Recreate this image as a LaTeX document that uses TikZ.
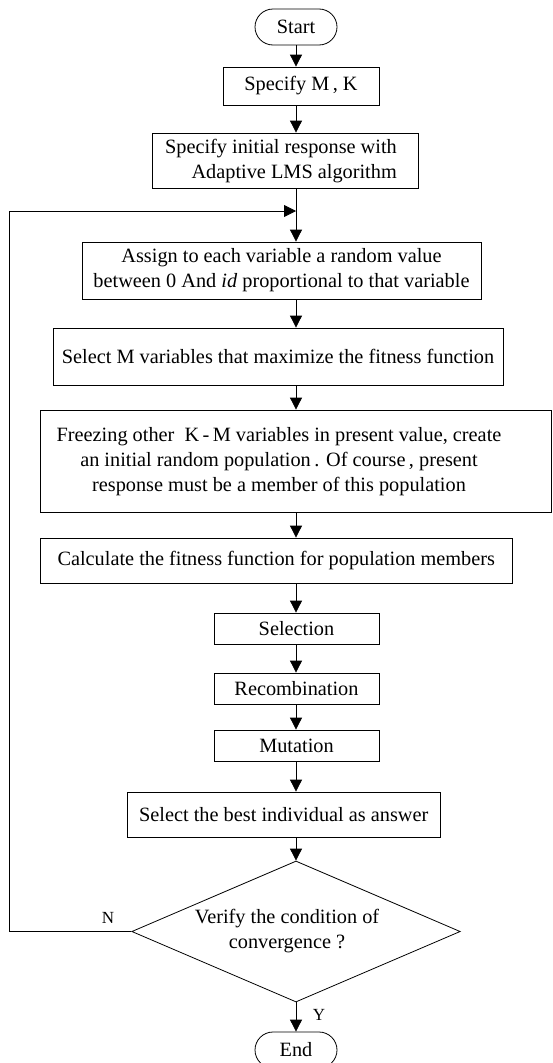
\documentclass[tikz,border=0pt]{standalone}
\usepackage{fontspec}
\setmainfont{Liberation Serif}
\usetikzlibrary{arrows.meta,shapes.geometric}
\begin{document}
\begin{tikzpicture}[x=1pt,y=-1pt,
  every node/.style={font=\fontsize{20.3}{25}\selectfont},
  box/.style={draw,rectangle,line width=0.8pt,inner sep=0pt,align=center},
  term/.style={draw,rectangle,rounded corners=18pt,line width=0.8pt,inner sep=0pt,minimum width=82pt,minimum height=36pt},
  txt/.style={inner sep=0pt,align=center},
  lab/.style={inner sep=0pt,font=\fontsize{17}{20}\selectfont},
  arr/.style={line width=0.8pt,-{Triangle[length=12pt,width=12pt]}},
  ln/.style={line width=0.8pt}]
\useasboundingbox (0,0) rectangle (552,1063);
\coordinate (ax) at (296,0);
\node[term] (start) at (296,27) {Start};
\node[box,minimum width=156pt,minimum height=38pt] (mk) at (301,86) {Specify M\,, K};
\node[box,minimum width=266pt,minimum height=55pt] (init) at (285,160.5) {};
\node[txt,anchor=east,align=right] (inittxt) at (397,161) {Specify initial response with\\Adaptive LMS algorithm};
\node[box,minimum width=399pt,minimum height=57pt] (assign) at (281.5,270.5) {Assign to each variable a random value\\between 0 And \textit{id} proportional to that variable};
\node[box,minimum width=450pt,minimum height=57pt] (selm) at (278,356.5) {Select M variables that maximize the fitness function};
\node[box,minimum width=510.5pt,minimum height=102pt] (freeze) at (295.75,461) {};
\node[txt] (freezetxt) at (279,462) {Freezing other\ \ K\,-\,M variables in present value,\ create\\an initial random population\,. Of course\,,\ present\\response must be a member of this population};
\node[box,minimum width=471.5pt,minimum height=45pt] (calc) at (276.25,560.5) {Calculate the fitness function for population members};
\node[box,minimum width=165pt,minimum height=31pt] (sel) at (296.5,628.5) {Selection};
\node[box,minimum width=165pt,minimum height=31pt] (rec) at (296.5,688.5) {Recombination};
\node[box,minimum width=165pt,minimum height=31pt] (mut) at (296.5,745.5) {Mutation};
\node[box,minimum width=312.5pt,minimum height=45pt] (best) at (283.75,814.5) {Select the best individual as answer};
\node[draw,diamond,line width=0.8pt,inner sep=0pt,minimum width=328.5pt,minimum height=141pt] (dia) at (296,931.5) {};
\node[txt] (diatxt) at (287,931) {Verify the condition of\\convergence ?};
\node[term] (end) at (296,1050) {End};
\node[lab] (nlab) at (108,918) {N};
\node[lab] (ylab) at (319,1015) {Y};
\coordinate (lc) at (9.5,211);
\coordinate (mg) at (296,211);
\draw[arr] (start.south -| ax) -- (mk.north -| ax);
\draw[arr] (mk.south -| ax) -- (init.north -| ax);
\draw[arr] (init.south -| ax) -- (assign.north -| ax);
\draw[arr] (assign.south -| ax) -- (selm.north -| ax);
\draw[arr] (selm.south -| ax) -- (freeze.north -| ax);
\draw[arr] (freeze.south -| ax) -- (calc.north -| ax);
\draw[arr] (calc.south -| ax) -- (sel.north -| ax);
\draw[arr] (sel.south -| ax) -- (rec.north -| ax);
\draw[arr] (rec.south -| ax) -- (mut.north -| ax);
\draw[arr] (mut.south -| ax) -- (best.north -| ax);
\draw[arr] (best.south -| ax) -- (dia.north);
\draw[arr] (dia.south) -- (end.north);
\draw[arr] (dia.west) -| (lc) -- (mg);
\end{tikzpicture}
\end{document}
